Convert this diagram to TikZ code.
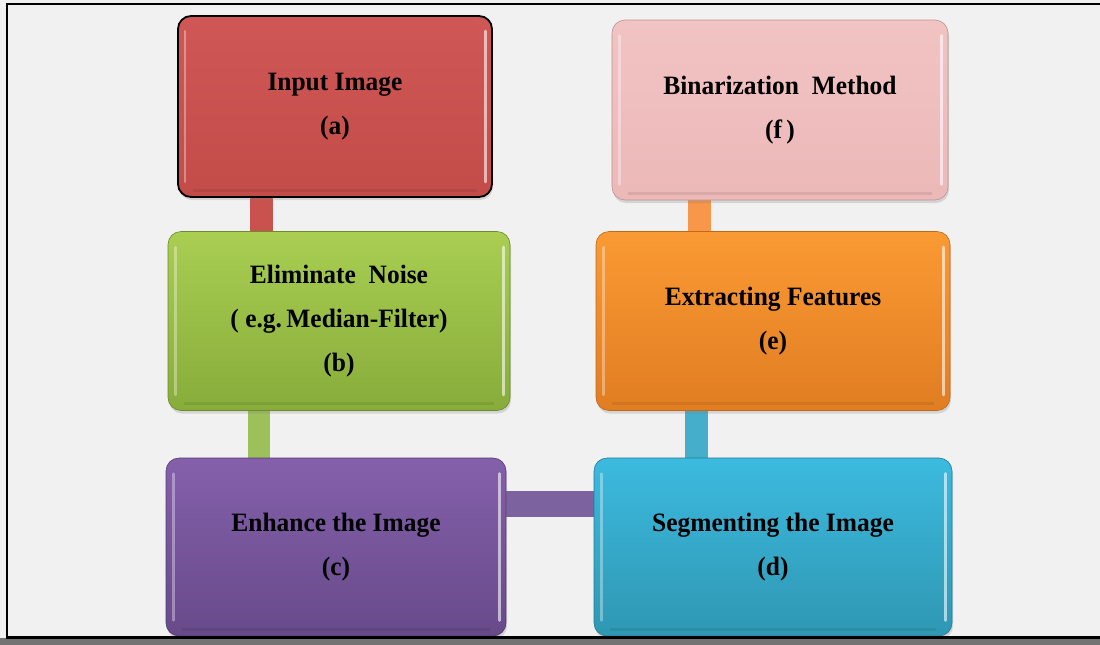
\documentclass[tikz,border=0pt]{standalone}
\usepackage{fontspec}
\setmainfont[FakeStretch=0.96]{Liberation Serif}
\usetikzlibrary{shadows}
\pgfdeclarelayer{bg}
\pgfdeclarelayer{conn}
\pgfsetlayers{bg,conn,main}
\definecolor{pagebg}{HTML}{F1F1F1}
\definecolor{redT}{HTML}{CF5755}\definecolor{redB}{HTML}{C34B48}
\definecolor{pinkT}{HTML}{F2C3C3}\definecolor{pinkB}{HTML}{ECB8B8}
\definecolor{greenT}{HTML}{A9CE52}\definecolor{greenB}{HTML}{88AC3A}
\definecolor{orangeT}{HTML}{FA9A33}\definecolor{orangeB}{HTML}{E17D22}
\definecolor{purpleT}{HTML}{8460AB}\definecolor{purpleB}{HTML}{684A8A}
\definecolor{cyanT}{HTML}{3CBADF}\definecolor{cyanB}{HTML}{2F97B3}
\definecolor{redC}{HTML}{C9524F}
\definecolor{greenC}{HTML}{9DC15A}
\definecolor{purpleC}{HTML}{7D62A0}
\definecolor{cyanC}{HTML}{45AECB}
\definecolor{orangeC}{HTML}{F8964A}
\tikzset{
  stepbox/.style={rounded corners=13pt, minimum width=#1, align=center,
    font=\fontsize{26.5}{44}\selectfont\bfseries, text=black,
    drop shadow={shadow xshift=1pt, shadow yshift=-3pt, opacity=0.25}},
  conn/.style={line width=23pt}
}
\begin{document}
\begin{tikzpicture}[x=1pt,y=-1pt]
\useasboundingbox (0,0) rectangle (1100,645);
\begin{pgfonlayer}{bg}
  \fill[pagebg] (0,0) rectangle (1100,645);
\end{pgfonlayer}
% boxes
\node[stepbox=314pt, minimum height=181pt, top color=redT, bottom color=redB, draw=black, line width=1.8pt] (a) at (335,106.5) {Input Image\\(a)};
\node[stepbox=336pt, minimum height=180pt, top color=pinkT, bottom color=pinkB, draw=pinkB!80!black, line width=0.6pt] (f) at (780,110) {Binarization~~Method\\(f\,)};
\node[stepbox=342pt, minimum height=179pt, top color=greenT, bottom color=greenB, draw=greenB!80!black, line width=0.6pt] (b) at (339,321) {Eliminate~~Noise\\(~e.g.\,Median-Filter)\\(b)};
\node[stepbox=354pt, minimum height=179pt, top color=orangeT, bottom color=orangeB, draw=orangeB!85!black, line width=0.6pt] (e) at (773,321) {Extracting Features\\(e)};
\node[stepbox=340pt, minimum height=178pt, top color=purpleT, bottom color=purpleB, draw=purpleB!80!black, line width=0.6pt] (c) at (336,547) {Enhance the Image\\(c)};
\node[stepbox=358pt, minimum height=178pt, top color=cyanT, bottom color=cyanB, draw=cyanB!80!black, line width=0.6pt] (d) at (773,547) {Segmenting the Image\\(d)};
% bevel highlights
\foreach \n in {a,b,c,d,e,f}{
  \draw[white, opacity=0.35, line width=2.5pt, line cap=round] ([shift={(8,16)}]\n.north west) -- ([shift={(8,-16)}]\n.south west);
  \draw[white, opacity=0.6, line width=3pt, line cap=round] ([shift={(-7,16)}]\n.north east) -- ([shift={(-7,-16)}]\n.south east);
  \draw[black, opacity=0.08, line width=3pt] ([shift={(16,-7)}]\n.south west) -- ([shift={(-16,-7)}]\n.south east);
}
% connectors
\coordinate (xab) at (261,0);
\coordinate (xbc) at (259,0);
\coordinate (xef) at (699,0);
\coordinate (xde) at (696,0);
\coordinate (ycd) at (0,504);
\begin{pgfonlayer}{conn}
  \draw[conn, redC] (a.south -| xab) -- (b.north -| xab);
  \draw[conn, greenC, line width=22pt] (b.south -| xbc) -- (c.north -| xbc);
  \draw[conn, purpleC, line width=26pt] (c.east |- ycd) -- (d.west |- ycd);
  \draw[conn, cyanC] (d.north -| xde) -- (e.south -| xde);
  \draw[conn, orangeC] (e.north -| xef) -- (f.south -| xef);
\end{pgfonlayer}
% frame
\fill[black!55] (0,638) rectangle (1100,645);
\draw[black, line width=2.5pt] (7,637.5) -- (1100,637.5);
\draw[black, line width=2.5pt] (7,638.5) -- (7,4) -- (1100,4);
\end{tikzpicture}
\end{document}
